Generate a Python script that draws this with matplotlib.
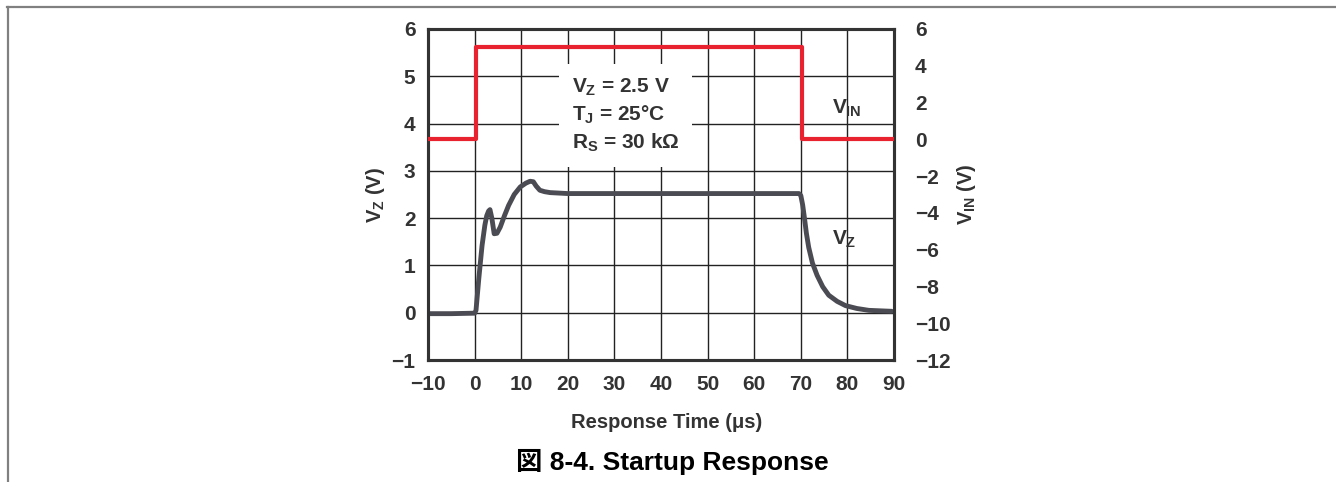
import matplotlib
matplotlib.use("Agg")
import matplotlib.pyplot as plt
from matplotlib.lines import Line2D

plt.rcParams['font.family'] = ['Liberation Sans', 'Noto Sans CJK JP', 'DejaVu Sans']
plt.rcParams['font.weight'] = 'bold'
plt.rcParams['axes.labelweight'] = 'bold'
plt.rcParams['mathtext.fontset'] = 'custom'
plt.rcParams['mathtext.rm'] = 'Liberation Sans:bold'
plt.rcParams['mathtext.it'] = 'Liberation Sans:bold'
plt.rcParams['mathtext.bf'] = 'Liberation Sans:bold'

# ---- data ----
vz_t = [-10, -5, 0, 0.3, 0.9, 1.6, 2.2, 2.6, 3.0, 3.3, 3.7, 4.2, 4.8, 5.5, 6.4, 7.3,
        8.5, 9.8, 11.0, 11.9, 12.6, 13.2, 14.0, 15.0, 16.2, 20, 30, 40, 50, 60, 69.6,
        70.0, 70.4, 70.8, 71.2, 71.7, 72.5, 73.5, 74.7, 76.0, 77.8, 79.6, 82, 84.6, 87, 89.5]
vz_v = [-0.02, -0.02, -0.01, 0.05, 0.72, 1.42, 1.85, 2.05, 2.15, 2.18, 2.0, 1.67, 1.68,
        1.81, 2.05, 2.27, 2.5, 2.66, 2.74, 2.78, 2.77, 2.68, 2.59, 2.56, 2.54, 2.52, 2.52,
        2.52, 2.52, 2.52, 2.52, 2.48, 2.28, 1.99, 1.68, 1.38, 1.05, 0.79, 0.55, 0.37, 0.24,
        0.15, 0.09, 0.05, 0.04, 0.03]
vin_t = [-10, 0.3, 0.3, 70.2, 70.2, 90]
vin_v = [0.0, 0.0, 5.0, 5.0, 0.0, 0.0]

x_ticks = [-10, 0, 10, 20, 30, 40, 50, 60, 70, 80, 90]
yl_ticks = [-1, 0, 1, 2, 3, 4, 5, 6]
yr_ticks = [-12, -10, -8, -6, -4, -2, 0, 2, 4, 6]

def lab(v):
    return str(v).replace('-', '\u2212')

W, H = 1336, 482
fig = plt.figure(figsize=(W / 100, H / 100), dpi=100)
ax = fig.add_axes([428 / W, 1 - 360 / H, (894 - 428) / W, (360 - 29) / H])
ax2 = ax.twinx()

txt_col = '#333333'
ax.set_xlim(-10, 90)
ax.set_ylim(-1, 6)
ax2.set_ylim(-12, 6)
ax.set_xticks(x_ticks)
ax.set_xticklabels([lab(v) for v in x_ticks])
ax.set_yticks(yl_ticks)
ax.set_yticklabels([lab(v) for v in yl_ticks])
ax2.set_yticks(yr_ticks)
ax2.set_yticklabels([lab(v) for v in yr_ticks])
ax.tick_params(axis='y', length=0, labelsize=15, colors=txt_col, pad=9)
ax.tick_params(axis='x', length=0, labelsize=15, colors=txt_col, pad=11)
ax2.tick_params(axis='y', length=0, labelsize=15, colors=txt_col, pad=15)
for a in (ax, ax2):
    for s in a.spines.values():
        s.set_linewidth(2.2)
        s.set_color('#333333')
ax.grid(True, color='#222222', linewidth=1.0)
ax.set_axisbelow(True)

ax.plot(vz_t, vz_v, color='#4b4b53', linewidth=3.5, solid_joinstyle='round',
        solid_capstyle='round', zorder=3)
ax2.plot(vin_t, vin_v, color='#e8232f', linewidth=3.0, zorder=3)

ax.set_ylabel('$V_Z$ (V)', fontsize=14.5, color=txt_col, labelpad=3)
ax2.set_ylabel('$V_{IN}$ (V)', fontsize=14.5, color=txt_col, labelpad=3, rotation=90)

ax.text(20.8, 4.17, '$V_Z$ = 2.5 V\n$T_J$ = 25\u00b0C\n$R_S$ = 30 k\u03a9', fontsize=15,
        color=txt_col, ha='left', va='center', linespacing=1.35,
        bbox=dict(facecolor='white', edgecolor='none', pad=9), zorder=4)
ax.text(76.8, 4.32, '$V_{IN}$', fontsize=15, color=txt_col, ha='left', va='center', zorder=4)
ax.text(76.8, 1.55, '$V_Z$', fontsize=15, color=txt_col, ha='left', va='center', zorder=4)

fig.text(667 / W, 1 - 423 / H, 'Response Time (\u03bcs)', fontsize=14.5, color=txt_col,
         ha='center', va='center')
fig.text(672 / W, 1 - 462 / H, '\u56f3 8-4. Startup Response', fontsize=19, color='black',
         ha='center', va='center')

fig.add_artist(Line2D([7 / W, 1], [1 - 6.5 / H, 1 - 6.5 / H], transform=fig.transFigure,
                      color='#808080', linewidth=1.6))
fig.add_artist(Line2D([7.5 / W, 7.5 / W], [0, 1 - 6.5 / H], transform=fig.transFigure,
                      color='#808080', linewidth=1.6))

fig.savefig('out.png', dpi=100, facecolor='white')
